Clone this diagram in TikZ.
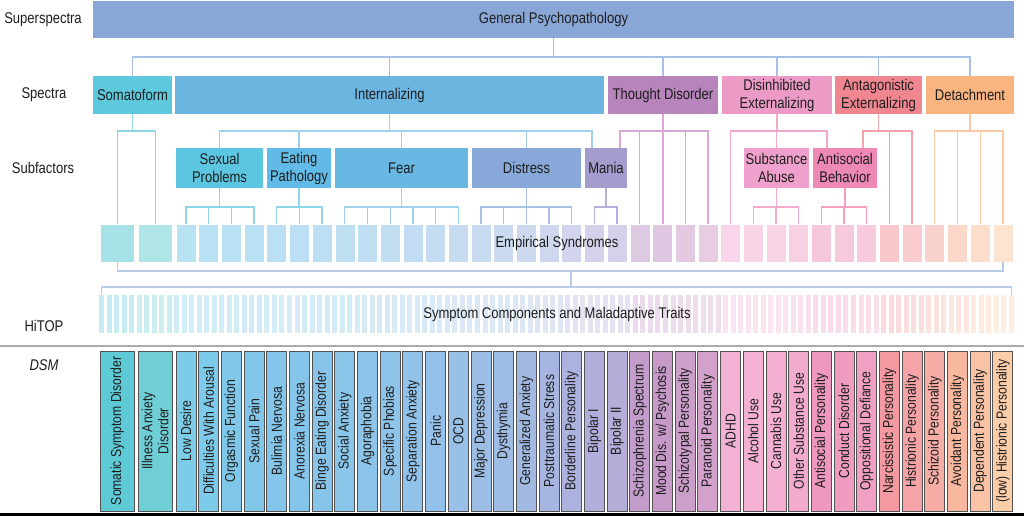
\documentclass[tikz,border=0pt]{standalone}
\usepackage{fontspec}
\setmainfont{Liberation Sans}[FakeStretch=0.84]
\definecolor{dsm1}{HTML}{5ECAD6}
\definecolor{dsm2}{HTML}{70CFD6}
\definecolor{dsm3}{HTML}{7CCCE8}
\definecolor{dsm4}{HTML}{7ECAEA}
\definecolor{dsm5}{HTML}{80C8EA}
\definecolor{dsm6}{HTML}{82C7EA}
\definecolor{dsm7}{HTML}{84C5EA}
\definecolor{dsm8}{HTML}{86C5EA}
\definecolor{dsm9}{HTML}{88C4EA}
\definecolor{dsm10}{HTML}{8AC6EA}
\definecolor{dsm11}{HTML}{8CC4EA}
\definecolor{dsm12}{HTML}{8EC3EA}
\definecolor{dsm13}{HTML}{90C2EA}
\definecolor{dsm14}{HTML}{93C1EA}
\definecolor{dsm15}{HTML}{99C0E6}
\definecolor{dsm16}{HTML}{9CBEE5}
\definecolor{dsm17}{HTML}{9FBCE4}
\definecolor{dsm18}{HTML}{A2B9E2}
\definecolor{dsm19}{HTML}{A7B6E0}
\definecolor{dsm20}{HTML}{ACB1DD}
\definecolor{dsm21}{HTML}{B1AEDB}
\definecolor{dsm22}{HTML}{B5ACD8}
\definecolor{dsm23}{HTML}{C29CCB}
\definecolor{dsm24}{HTML}{C799C9}
\definecolor{dsm25}{HTML}{CC9FCA}
\definecolor{dsm26}{HTML}{D3A2CC}
\definecolor{dsm27}{HTML}{F2B2D6}
\definecolor{dsm28}{HTML}{F4B1D4}
\definecolor{dsm29}{HTML}{F4AFD2}
\definecolor{dsm30}{HTML}{F2AACD}
\definecolor{dsm31}{HTML}{EE98BF}
\definecolor{dsm32}{HTML}{EF9CC0}
\definecolor{dsm33}{HTML}{F0A0C2}
\definecolor{dsm34}{HTML}{F3999F}
\definecolor{dsm35}{HTML}{F5A3A6}
\definecolor{dsm36}{HTML}{F6ADA5}
\definecolor{dsm37}{HTML}{F8B79F}
\definecolor{dsm38}{HTML}{FBC3A5}
\definecolor{dsm39}{HTML}{FCCDA9}
% spectra / subfactor fills
\definecolor{cgp}{HTML}{88A6D6}
\definecolor{csoma}{HTML}{5EC8DC}
\definecolor{cint}{HTML}{6BB5E1}
\definecolor{cthou}{HTML}{B784BC}
\definecolor{cdis}{HTML}{EB9BC6}
\definecolor{cant}{HTML}{F0868F}
\definecolor{cdet}{HTML}{FAB480}
\definecolor{csex}{HTML}{5CC5E0}
\definecolor{ceat}{HTML}{62BBE6}
\definecolor{cfear}{HTML}{68B8E3}
\definecolor{cdist}{HTML}{87A8D8}
\definecolor{cmania}{HTML}{A39CCD}
\definecolor{csub}{HTML}{F0A0CC}
\definecolor{cab}{HTML}{EE89B5}
% connector colours
\definecolor{lgp}{HTML}{A8C0E6}
\definecolor{lsoma}{HTML}{8DD5E3}
\definecolor{lint}{HTML}{9FD0EE}
\definecolor{lthou}{HTML}{D9A8D8}
\definecolor{ldis}{HTML}{F3A7CC}
\definecolor{lant}{HTML}{F6A2AC}
\definecolor{ldet}{HTML}{FCC9A8}
\definecolor{lsex}{HTML}{8FD5EA}
\definecolor{lfear}{HTML}{9FD0EE}
\definecolor{ldist}{HTML}{A8C0E4}
\definecolor{lmania}{HTML}{B8B0DC}
\definecolor{lsub}{HTML}{F5AAD0}
\definecolor{lab}{HTML}{F5A0C0}
\definecolor{lbrk}{HTML}{B8CBE8}
\definecolor{txt}{HTML}{1E1E1E}
\newcommand\bx[7]{\node[sbox, fill=#6, minimum width={#4pt-#2pt}, minimum height={#5pt-#3pt}] (#1) at ({(#2+#4)/2},{(#3+#5)/2}) {#7};}
\newcommand\hbr[5]{%
  \draw[conn, draw=#1] (#3.north) |- (#2 -| #4.north) -- (#4.north);
  \foreach \m in {#5}{\draw[conn, draw=#1] (\m.north) -- (\m.north |- #2);}}
\begin{document}
\begin{tikzpicture}[x=1pt, y=-1pt,
  lbl/.style={inner sep=0, outer sep=0, text=txt, font=\fontsize{15.5}{18}\selectfont, align=center},
  sbox/.style={lbl},
  dsmbox/.style={rotate=90, inner sep=0, outer sep=0, draw=black!68, line width=0.9pt, minimum width=160pt, text=txt, align=center, font=\fontsize{14.5}{16}\selectfont},
  embox/.style={inner sep=0, outer sep=0, draw=white, line width=0.6pt, minimum height=38pt},
  strip/.style={inner sep=0, outer sep=0, minimum width=5pt, minimum height=38pt},
  conn/.style={line width=1.3pt}]
\useasboundingbox (0,0) rectangle (1024,516);
\fill[white] (0,0) rectangle (1024,516);

% left labels
\node[lbl] (Lsuper) at (43,20) {Superspectra};
\node[lbl] (Lspec) at (44,95) {Spectra};
\node[lbl] (Lsub) at (43,168) {Subfactors};
\node[lbl] (Lhitop) at (44,326) {HiTOP};
\node[lbl, font=\fontsize{15.5}{18}\selectfont\itshape] (Ldsm) at (44,365) {DSM};

% superspectrum and spectra
\bx{gp}{93}{1}{1014}{38}{cgp}{General Psychopathology}
\bx{soma}{93}{76}{172}{114}{csoma}{Somatoform}
\bx{intern}{175}{76}{604}{114}{cint}{Internalizing}
\bx{thought}{608}{76}{718}{114}{cthou}{Thought Disorder}
\bx{disinh}{722}{76}{832}{114}{cdis}{Disinhibited\\Externalizing}
\bx{antag}{835}{76}{922}{114}{cant}{Antagonistic\\Externalizing}
\bx{detach}{926}{76}{1014}{114}{cdet}{Detachment}

% subfactors
\bx{sex}{176}{148}{263}{188}{csex}{Sexual\\Problems}
\bx{eat}{267}{148}{331}{188}{ceat}{Eating\\Pathology}
\bx{fear}{335}{148}{468}{188}{cfear}{Fear}
\bx{dist}{472}{148}{581}{188}{cdist}{Distress}
\bx{mania}{585}{148}{627}{188}{cmania}{Mania}
\bx{subst}{744}{148}{809}{188}{csub}{Substance\\Abuse}
\bx{antib}{813}{148}{877}{188}{cab}{Antisocial\\Behavior}

% DSM columns and empirical syndromes
\foreach \i/\t in {1/{Somatic Symptom Disorder},2/{Illness Anxiety\\Disorder},3/{Low Desire},4/{Difficulties With Arousal},5/{Orgasmic Function},6/{Sexual Pain},7/{Bulimia Nervosa},8/{Anorexia Nervosa},9/{Binge Eating Disorder},10/{Social Anxiety},11/{Agoraphobia},12/{Specific Phobias},13/{Separation Anxiety},14/{Panic},15/{OCD},16/{Major Depression},17/{Dysthymia},18/{Generalized Anxiety},19/{Posttraumatic Stress},20/{Borderline Personality},21/{Bipolar I},22/{Bipolar II},23/{Schizophrenia Spectrum},24/{Mood Dis. w/ Psychosis},25/{Schizotypal Personality},26/{Paranoid Personality},27/{ADHD},28/{Alcohol Use},29/{Cannabis Use},30/{Other Substance Use},31/{Antisocial Personality},32/{Conduct Disorder},33/{Oppositional Defiance},34/{Narcissistic Personality},35/{Histrionic Personality},36/{Schizoid Personality},37/{Avoidant Personality},38/{Dependent Personality},39/{(low) Histrionic Personality}}{
  \pgfmathsetmacro\xa{\i==1 ? 100 : (\i==2 ? 138 : 176+(\i-3)*22.69)}
  \pgfmathsetmacro\w{\i<3 ? 34.5 : 20}
  \pgfmathsetmacro\xc{\xa+\w/2}
  \node[dsmbox, fill=dsm\i, minimum height=\w pt] (d\i) at (\xc,431) {\t};
  \node[embox, fill=dsm\i!55!white, minimum width=\w pt] (e\i) at (\xc,243) {};
}
\node[lbl] (es) at (557,243) {Empirical Syndromes};

% symptom components strips
\foreach \k in {1,...,122}{
  \pgfmathsetmacro\xs{99+(\k-1)*7.52+2.5}
  \pgfmathtruncatemacro\ci{\xs<137 ? 1 : (\xs<175 ? 2 : min(39,3+floor((\xs-176)/22.69)))}
  \node[strip, fill=dsm\ci!35!white] (s\k) at (\xs,314) {};
}
\node[lbl] (sc) at (557,314) {Symptom Components and Maladaptive Traits};

% helper coordinates
\coordinate (gpy) at (0,57);
\coordinate (iy) at (0,131);
\coordinate (ey) at (0,207);
\coordinate (by) at (0,271);
\coordinate (sy) at (0,287);
\coordinate (mid) at (571,0);
\coordinate (mL) at ([xshift=7pt]mania.north west);
\coordinate (mR) at ([xshift=-7pt]mania.north east);
\coordinate (abL) at ([xshift=14pt]antib.north west);
\coordinate (abR) at ([xshift=-14pt]antib.north east);

% general -> spectra
\draw[conn, draw=lgp] (soma.north) |- (gpy -| detach.north) -- (detach.north);
\draw[conn, draw=lgp] (gp.south) -- (gp.south |- gpy);
\foreach \n in {intern,thought,disinh,antag}{\draw[conn, draw=lgp] (\n.north) -- (\n.north |- gpy);}

% somatoform
\draw[conn, draw=lsoma] (soma.south) -- (soma.south |- iy);
\draw[conn, draw=lsoma] (e1.north) |- (iy -| e2.north) -- (e2.north);

% internalizing
\draw[conn, draw=lint] (intern.south) -- (intern.south |- iy);
\draw[conn, draw=lint] (sex.north) |- (iy -| mL) -- (mL);
\foreach \n in {eat,fear,dist}{\draw[conn, draw=lint] (\n.north) -- (\n.north |- iy);}

% thought disorder
\draw[conn, draw=lthou] (thought.south) -- (thought.south |- e24.north);
\draw[conn, draw=lthou] (mR) |- (iy -| e26.north) -- (e26.north);
\foreach \n in {e23,e25}{\draw[conn, draw=lthou] (\n.north) -- (\n.north |- iy);}

% disinhibited externalizing
\draw[conn, draw=ldis] (disinh.south) -- (disinh.south |- iy);
\draw[conn, draw=ldis] (e27.north) |- (iy -| abL) -- (abL);
\draw[conn, draw=ldis] (subst.north) -- (subst.north |- iy);

% antagonistic externalizing
\draw[conn, draw=lant] (antag.south) -- (antag.south |- iy);
\draw[conn, draw=lant] (abR) |- (iy -| e35.north) -- (e35.north);
\draw[conn, draw=lant] (e34.north) -- (e34.north |- iy);

% detachment
\draw[conn, draw=ldet] (detach.south) -- (detach.south |- iy);
\hbr{ldet}{iy}{e36}{e39}{e37,e38}

% subfactors -> empirical syndromes
\foreach \n/\c in {sex/lsex,eat/lsex,fear/lfear,dist/ldist,mania/lmania,subst/lsub,antib/lab}{\draw[conn, draw=\c] (\n.south) -- (\n.south |- ey);}
\hbr{lsex}{ey}{e3}{e6}{e4,e5}
\hbr{lsex}{ey}{e7}{e9}{e8}
\hbr{lfear}{ey}{e10}{e15}{e11,e12,e13,e14}
\hbr{ldist}{ey}{e16}{e20}{e17,e18,e19}
\draw[conn, draw=lmania] (e21.north) |- (ey -| e22.north) -- (e22.north);
\hbr{lsub}{ey}{e28}{e30}{e29}
\hbr{lab}{ey}{e31}{e33}{e32}

% empirical syndromes -> symptom components
\draw[conn, draw=lbrk] (e1.south) |- (by -| e39.south) -- (e39.south);
\draw[conn, draw=lbrk] (s1.north) |- (sy -| s122.north) -- (s122.north);
\draw[conn, draw=lbrk] (mid |- by) -- (mid |- sy);

% separator and bottom bar
\draw[line width=1.5pt, draw=black!33] (0,346) -- (1024,346);
\fill[black] (0,512.5) rectangle (1024,516);
\end{tikzpicture}
\end{document}
